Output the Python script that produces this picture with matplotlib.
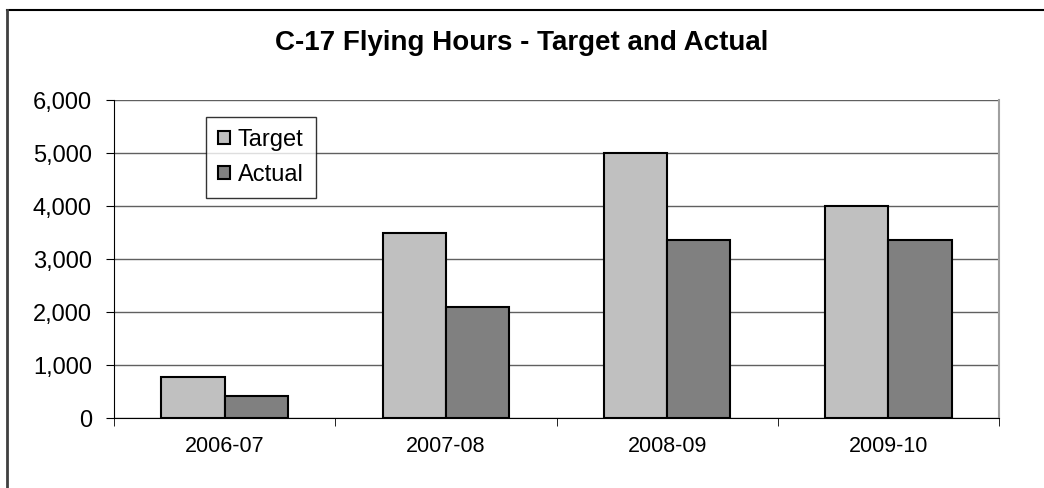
import matplotlib.pyplot as plt
import numpy as np
from matplotlib.ticker import FuncFormatter

# chart data
years = ['2006-07', '2007-08', '2008-09', '2009-10']
target = [770, 3500, 5000, 4000]
actual = [420, 2100, 3360, 3360]

plt.rcParams['font.family'] = ['Liberation Sans', 'DejaVu Sans']

fig = plt.figure(figsize=(10.44, 4.88), dpi=100)
ax = fig.add_axes([0.1092, 0.1434, 0.957 - 0.1092, 0.795 - 0.1434])

x = np.arange(len(years))
w = 1 / 3.5
ax.bar(x - w / 2, target, w, color='#c0c0c0', edgecolor='black', linewidth=1.5, label='Target', zorder=3)
ax.bar(x + w / 2, actual, w, color='#808080', edgecolor='black', linewidth=1.5, label='Actual', zorder=3)

ax.set_xlim(-0.5, len(years) - 0.5)
ax.set_ylim(0, 6000)
ax.set_yticks(range(0, 6001, 1000))
ax.yaxis.set_major_formatter(FuncFormatter(lambda v, p: f'{int(v):,}'))
ax.set_xticks(x)
ax.set_xticklabels(years, fontsize=15.5)
ax.set_xticks(np.arange(-0.5, len(years)), minor=True)
ax.tick_params(axis='x', which='major', length=0, pad=13)
ax.tick_params(axis='x', which='minor', length=6, color='black', direction='out')
ax.tick_params(axis='y', length=6, color='black', labelsize=17, pad=10)

ax.grid(axis='y', color='#606060', linewidth=1, zorder=0)
ax.spines['top'].set_visible(False)
ax.spines['right'].set_color('#a0a0a0')
ax.spines['right'].set_linewidth(1.5)
ax.spines['left'].set_color('black')
ax.spines['bottom'].set_color('black')

leg = ax.legend(loc='upper left', bbox_to_anchor=(0.104, 0.946), fontsize=17,
                frameon=True, fancybox=False, edgecolor='black', handlelength=0.5,
                handleheight=0.5, handletextpad=0.35, borderpad=0.5, labelspacing=0.55,
                borderaxespad=0)
leg.get_frame().set_linewidth(1)

fig.text(0.5, 0.912, 'C-17 Flying Hours - Target and Actual', ha='center', va='center',
         fontsize=20, fontweight='bold')

# outer chart border (cut off at right and bottom)
fig.add_artist(plt.Line2D([7 / 1044, 1.01], [1 - 10 / 488] * 2, color='black', linewidth=1.5))
fig.add_artist(plt.Line2D([7 / 1044] * 2, [-0.01, 1 - 10 / 488], color='#404040', linewidth=2))

fig.savefig('out.png', dpi=100)
